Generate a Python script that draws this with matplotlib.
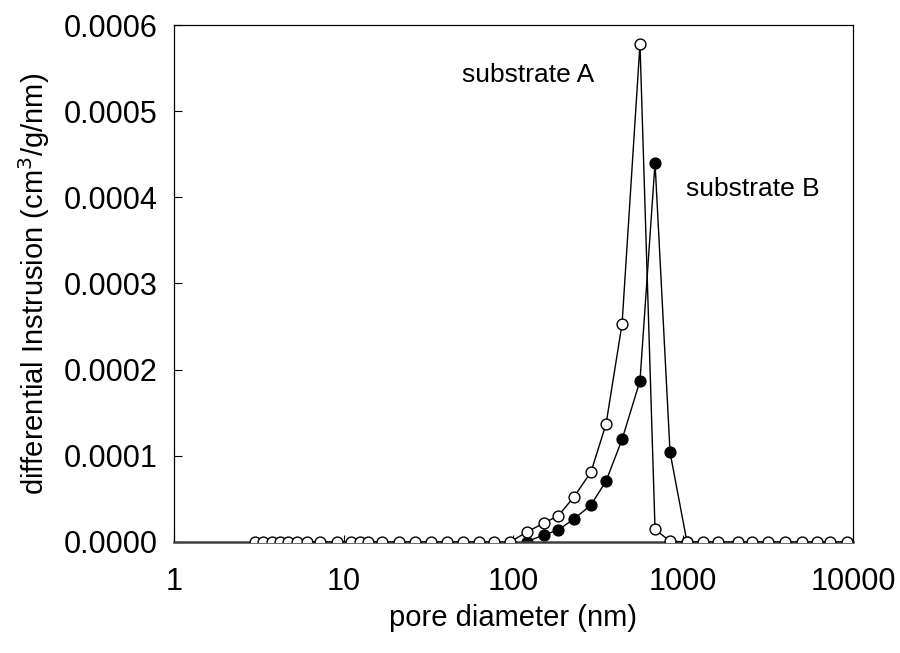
import numpy as np
import matplotlib
matplotlib.use("Agg")
import matplotlib.pyplot as plt
from matplotlib.ticker import FixedLocator, NullLocator, FixedFormatter

plt.rcParams["font.family"] = ["Liberation Sans", "DejaVu Sans"]

# pore diameters (nm), shared grid
pore_d = [3.00, 3.36, 3.76, 4.21, 4.71, 5.28, 6.05, 7.25, 9.08, 11.1,
          12.5, 13.9, 16.8, 21.1, 26.3, 32.7, 40.6, 50.4, 62.6, 76.7,
          95.4, 120, 151, 183, 227, 286, 351, 436, 556, 682,
          836, 1052, 1307, 1602, 2102, 2543, 3157, 3975, 5009, 6142,
          7325, 9234]

# substrate A (open circles)
sub_a = [0, 0, 0, 0, 0, 0, 0, 0, 0, 0,
         0, 0, 0, 0, 0, 0, 0, 0, 0, 0,
         0, 0.0000116, 0.0000220, 0.0000302, 0.0000522, 0.0000812, 0.000137, 0.000253, 0.000578, 0.0000145,
         0.000001, 0, 0, 0, 0, 0, 0, 0, 0, 0,
         0, 0]

# substrate B (filled circles), visible part only
pore_d_b = [120, 151, 183, 227, 286, 351, 436, 556, 682, 836, 1052]
sub_b = [0.0000005, 0.0000081, 0.0000139, 0.0000267, 0.0000429, 0.0000708,
         0.000119, 0.000187, 0.000440, 0.000104, 0]

y_ticks = [0, 0.0001, 0.0002, 0.0003, 0.0004, 0.0005, 0.0006]
x_ticks = [1, 10, 100, 1000, 10000]

fig = plt.figure(figsize=(9, 6.53), dpi=100)
ax = fig.add_axes([0.1933, 0.170, 0.7545, 0.7917])

ax.plot(pore_d_b, sub_b, color="black", lw=1.0, marker="o", ms=7.8,
        mfc="black", mec="black", mew=1.0, zorder=2)
ax.plot(pore_d, sub_a, color="black", lw=1.0, marker="o", ms=7.8,
        mfc="white", mec="black", mew=1.0, zorder=3)

ax.set_xscale("log")
ax.set_xlim(1, 10000)
ax.set_ylim(0, 0.0006)

ax.xaxis.set_major_locator(FixedLocator(x_ticks))
ax.xaxis.set_major_formatter(FixedFormatter([str(v) for v in x_ticks]))
ax.xaxis.set_minor_locator(NullLocator())
ax.set_yticks(y_ticks)
ax.set_yticklabels(["%.4f" % v for v in y_ticks])

ax.tick_params(axis="x", direction="in", length=5, width=0.8,
               labelsize=22, pad=18, top=False)
ax.tick_params(axis="y", direction="in", length=6, width=0.8,
               labelsize=22, pad=12, right=False)

for s in ["left", "right", "top"]:
    ax.spines[s].set_linewidth(0.9)
    ax.spines[s].set_color("black")
ax.spines["bottom"].set_linewidth(1.8)
ax.spines["bottom"].set_color("#404040")

ax.set_xlabel("pore diameter (nm)", fontsize=21, labelpad=5)
ax.set_ylabel("differential Instrusion (cm$^3$/g/nm)", fontsize=21, labelpad=8)

ax.text(49.7, 0.000542, "substrate A", fontsize=19, ha="left", va="center")
ax.text(1038, 0.000410, "substrate B", fontsize=19, ha="left", va="center")

fig.savefig("out.png", dpi=100)
